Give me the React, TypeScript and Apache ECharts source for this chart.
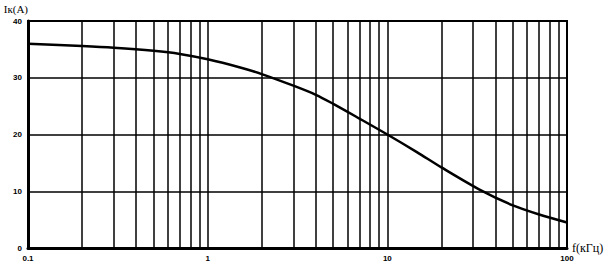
import React, { useEffect, useRef } from "react";
import * as echarts from "echarts";

const freqs = [0.1, 0.2, 0.3, 0.5, 0.7, 1, 1.5, 2, 3, 4, 5, 7, 10, 14.6, 20, 33, 50, 70, 100];
const current = [36.0, 35.6, 35.3, 34.75, 34.2, 33.25, 31.85, 30.65, 28.6, 27.0, 25.4, 22.8, 20.0, 16.9, 14.2, 10.2, 7.5, 5.9, 4.5];
const gridFreqs = [
  0.2, 0.3, 0.4, 0.5, 0.6, 0.7, 0.8, 0.9, 1,
  2, 3, 4, 5, 6, 7, 8, 9, 10,
  20, 30, 40, 50, 60, 70, 80, 90, 100,
];
const yTicks = [0, 10, 20, 30, 40];
const xTickLabels = ["0.1", "1", "10", "100"];

export default function App() {
  const ref = useRef<HTMLDivElement>(null);
  useEffect(() => {
    if (!ref.current) return;
    const chart = echarts.init(ref.current, null, { renderer: "svg" });
    const labelStyle = {
      color: "#000",
      fontFamily: "Liberation Sans",
      fontSize: 8,
      fontWeight: "bold" as const,
    };
    chart.setOption({
      animation: false,
      backgroundColor: "#fff",
      grid: {
        left: 28,
        right: 41,
        top: 21,
        bottom: 18,
        show: true,
        borderColor: "#000",
        borderWidth: 2,
      },
      xAxis: {
        type: "log",
        logBase: 10,
        min: 0.1,
        max: 100,
        name: "f(кГц)",
        nameLocation: "end",
        nameGap: 5,
        nameTextStyle: {
          color: "#000",
          fontFamily: "Liberation Serif",
          fontSize: 12,
          verticalAlign: "middle",
          padding: [4, 0, 0, 0],
        },
        axisLine: { show: true, lineStyle: { color: "#000", width: 3 } },
        axisTick: { show: false },
        splitLine: { show: false },
        axisLabel: {
          ...labelStyle,
          margin: 6,
          formatter: (v: number) => {
            const idx = [0.1, 1, 10, 100].findIndex((t) => Math.abs(t - v) < 1e-9);
            return idx >= 0 ? xTickLabels[idx] : "";
          },
        },
      },
      yAxis: {
        type: "value",
        min: 0,
        max: 40,
        interval: 10,
        name: "Iк(A)",
        nameLocation: "end",
        nameGap: 7,
        nameTextStyle: {
          color: "#000",
          fontFamily: "Liberation Serif",
          fontSize: 11,
          align: "right",
          verticalAlign: "bottom",
        },
        axisLine: { show: true, lineStyle: { color: "#000", width: 3 } },
        axisTick: { show: false },
        splitLine: { show: true, lineStyle: { color: "#000", width: 1.5 } },
        axisLabel: {
          ...labelStyle,
          margin: 6,
          formatter: (v: number) => (yTicks.includes(v) ? String(v) : ""),
        },
      },
      series: [
        {
          type: "line",
          data: freqs.map((f, i) => [f, current[i]]),
          smooth: 0.3,
          symbol: "none",
          lineStyle: { color: "#000", width: 2.5 },
          z: 5,
          markLine: {
            silent: true,
            symbol: "none",
            animation: false,
            label: { show: false },
            lineStyle: { color: "#000", width: 1.5, type: "solid" },
            data: gridFreqs.map((f) => ({ xAxis: f })),
            z: 2,
          },
        },
      ],
    });
    return () => chart.dispose();
  }, []);
  return (
    <div
      ref={ref}
      style={{ position: "absolute", left: 0, top: 0, width: 608, height: 266 }}
    />
  );
}
